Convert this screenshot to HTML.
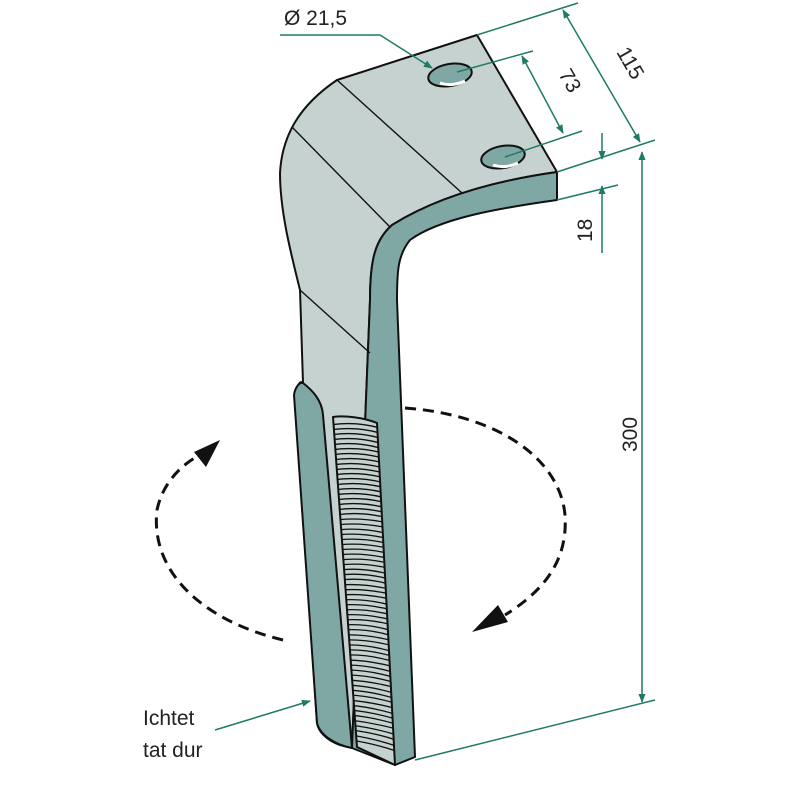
<!DOCTYPE html>
<html><head><meta charset="utf-8"><style>html,body{margin:0;padding:0;background:#fff}svg{display:block}</style></head><body>
<svg width="800" height="800" viewBox="0 0 800 800" xmlns="http://www.w3.org/2000/svg">
<defs>
<marker id="ga" viewBox="0 0 10 10" refX="9" refY="5" markerWidth="9" markerHeight="9" orient="auto-start-reverse" markerUnits="userSpaceOnUse"><path d="M0,1 L10,5 L0,9 Z" fill="#1f7a66"/></marker>
<clipPath id="sc"><path d="M333,417 C345,415 365,418 377,423 L395,765 L357,747 Z"/></clipPath>
</defs>
<g stroke="#111" stroke-width="2" stroke-linejoin="round">
<path d="M477,35 L557,172 C500,180 440,195 392,225 C375,240 370,260 370,300 L352,748 L340,745 C325,740 318,730 317,723 L296,395 C297,385 300,380 303,383 L300,290 C290,250 280,210 280,173 C282,135 300,105 337,80 Z" fill="#c6d2cf"/>
<path d="M557,172 L557,200 C500,208 440,218 410,240 C398,255 397,270 397,300 L415,757 L395,765 L352,748 L370,300 C370,260 375,240 392,225 C440,195 500,180 557,172 Z" fill="#7fa7a4"/>
<path d="M303,383 C312,390 322,400 323,415 L352,748 C335,745 320,735 317,723 L294,395 C295,388 299,382 303,383 Z" fill="#7fa7a4"/>
<path d="M333,417 C345,415 365,418 377,423 L395,765 L357,747 Z" fill="#c6d2cf"/>
</g>
<g stroke="#111" stroke-width="1.4" fill="none">
<path d="M337,80 L462,193"/>
<path d="M292,127 L390,227"/>
<path d="M300,290 L370,353"/>
</g>
<g stroke="#111" stroke-width="1.3" fill="none" clip-path="url(#sc)">
<path d="M330,425 q25,-4 50,3"/><path d="M330,430 q25,-4 50,3"/><path d="M330,435 q25,-4 50,3"/><path d="M330,440 q25,-4 50,3"/><path d="M330,445 q25,-4 50,3"/><path d="M331,450 q25,-4 52,3"/><path d="M331,455 q25,-4 52,3"/><path d="M332,460 q25,-4 52,3"/><path d="M332,465 q25,-4 52,3"/><path d="M332,470 q25,-4 52,3"/><path d="M333,475 q25,-4 52,3"/><path d="M333,480 q25,-4 52,3"/><path d="M334,485 q25,-4 52,3"/><path d="M334,490 q25,-4 52,3"/><path d="M334,495 q25,-4 52,3"/><path d="M335,500 q25,-4 52,3"/><path d="M335,505 q25,-4 52,3"/><path d="M335,510 q25,-4 52,3"/><path d="M336,515 q25,-4 52,3"/><path d="M336,520 q25,-3 52,3"/><path d="M336,525 q25,-3 52,3"/><path d="M337,530 q25,-3 52,4"/><path d="M337,535 q25,-3 52,4"/><path d="M337,540 q25,-3 53,4"/><path d="M338,545 q25,-3 53,4"/><path d="M338,550 q25,-3 53,4"/><path d="M338,555 q25,-3 53,4"/><path d="M339,560 q25,-3 53,4"/><path d="M339,565 q25,-3 53,4"/><path d="M339,570 q25,-3 53,5"/><path d="M340,575 q25,-3 53,5"/><path d="M340,580 q25,-3 53,5"/><path d="M340,585 q25,-2 53,5"/><path d="M341,590 q25,-2 53,5"/><path d="M341,595 q25,-2 53,5"/><path d="M341,600 q25,-2 53,6"/><path d="M342,605 q25,-2 53,6"/><path d="M342,610 q25,-2 53,6"/><path d="M342,615 q25,-2 53,6"/><path d="M343,620 q25,-2 53,6"/><path d="M343,625 q25,-2 53,7"/><path d="M343,630 q25,-2 53,7"/><path d="M344,635 q25,-1 53,7"/><path d="M344,640 q25,-1 53,7"/><path d="M344,645 q25,-1 53,8"/><path d="M345,650 q25,-1 53,8"/><path d="M345,655 q25,-1 53,8"/><path d="M345,660 q25,0 53,8"/><path d="M346,665 q25,0 53,9"/><path d="M346,670 q25,0 53,9"/><path d="M346,675 q25,0 53,9"/><path d="M347,680 q25,1 53,9"/><path d="M347,685 q25,1 53,10"/><path d="M347,690 q25,1 53,10"/><path d="M348,695 q25,1 53,10"/><path d="M348,700 q25,2 53,10"/><path d="M348,705 q25,2 53,11"/><path d="M349,710 q25,2 53,11"/><path d="M349,715 q25,2 53,11"/><path d="M350,720 q25,3 50,10"/><path d="M350,725 q25,3 50,11"/><path d="M351,730 q25,3 48,11"/><path d="M351,735 q25,4 48,12"/><path d="M351,740 q25,4 48,12"/>
</g>
<g stroke="#111" stroke-width="2">
<ellipse cx="450" cy="75" rx="22" ry="11" transform="rotate(-10 450 75)" fill="#7fa7a4"/>
<ellipse cx="503" cy="157" rx="22" ry="11" transform="rotate(-10 503 157)" fill="#7fa7a4"/>
</g>
<path d="M440,83 q12,4 25,-2" stroke="#fff" stroke-width="3" fill="none"/>
<path d="M493,165 q12,4 25,-2" stroke="#fff" stroke-width="3" fill="none"/>
<g stroke="#111" stroke-width="3" fill="none" stroke-dasharray="11,7">
<path d="M283,640 C200,620 150,570 157,510 C162,485 180,465 200,455"/>
<path d="M405,408 C500,415 560,460 565,515 C568,560 545,590 505,615"/>
</g>
<path d="M220,440 L194,452 L206,467 Z" fill="#111"/>
<path d="M472,632 L498,605 L508,622 Z" fill="#111"/>
<g stroke="#1f7a66" stroke-width="1.5" fill="none">
<path d="M280,35 L380,35 L432,68" marker-end="url(#ga)"/>
<path d="M477,35 L578,3"/>
<path d="M557,172 L655,140"/>
<path d="M563,10 L640,142" marker-start="url(#ga)" marker-end="url(#ga)"/>
<path d="M457,72 L533,51"/>
<path d="M505,157 L582,131"/>
<path d="M522,56 L563,133" marker-start="url(#ga)" marker-end="url(#ga)"/>
<path d="M557,200 L618,185"/>
<path d="M602,133 L602,159" marker-end="url(#ga)"/>
<path d="M602,253 L602,186" marker-end="url(#ga)"/>
<path d="M642,152 L642,702" marker-start="url(#ga)" marker-end="url(#ga)"/>
<path d="M415,760 L655,700"/>
<path d="M215,730 L310,701" marker-end="url(#ga)"/>
</g>
<g font-family="Liberation Sans, sans-serif" font-size="21" fill="#222">
<text x="284" y="25">Ø 21,5</text>
<text transform="translate(616,52) rotate(60)">115</text>
<text transform="translate(558,74) rotate(60)">73</text>
<text transform="translate(592,242) rotate(-90)">18</text>
<text transform="translate(637,452) rotate(-90)">300</text>
<text x="143" y="725">Ichtet</text>
<text x="143" y="757">tat dur</text>
</g>
</svg>
</body></html>
